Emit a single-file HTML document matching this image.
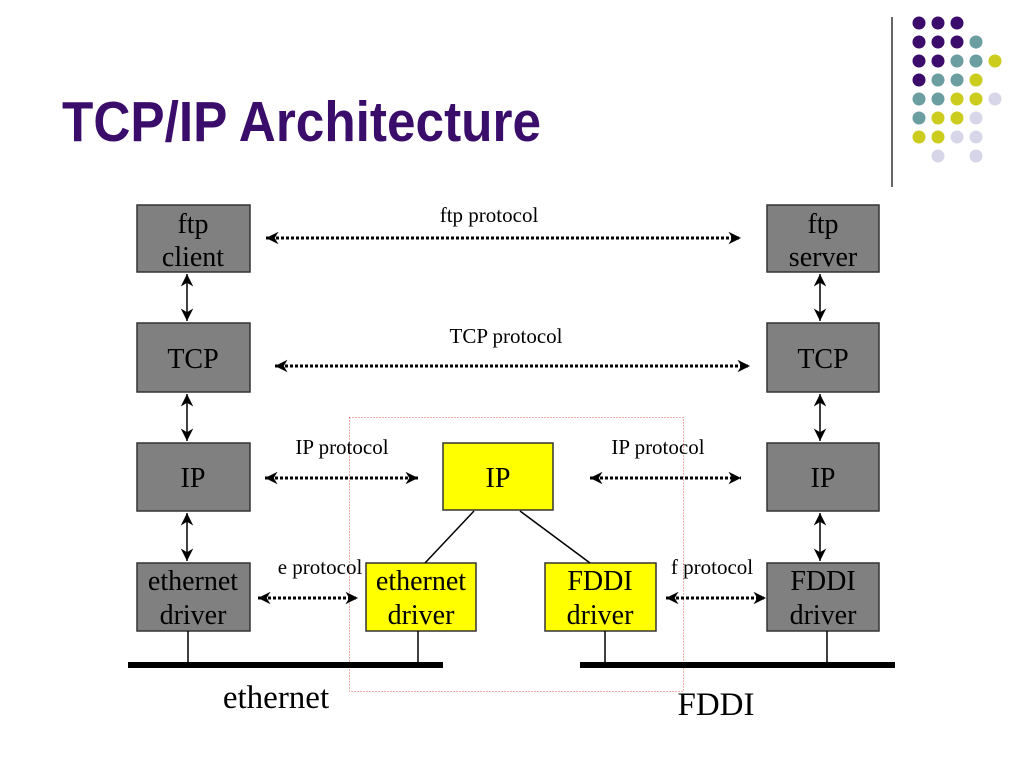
<!DOCTYPE html>
<html><head><meta charset="utf-8"><style>
html,body{margin:0;padding:0;background:#fff;}
svg{display:block;}
</style></head><body>
<svg width="1024" height="768" viewBox="0 0 1024 768" xmlns="http://www.w3.org/2000/svg">
<defs>
<marker id="a" viewBox="0 0 12 12" refX="11" refY="6" markerWidth="15" markerHeight="15" markerUnits="userSpaceOnUse" orient="auto-start-reverse">
<path d="M1,1 L11,6 L1,11 L4,6 Z" fill="#000"/>
</marker>
</defs>
<text x="62" y="141" font-family="Liberation Sans, sans-serif" font-weight="bold" font-size="57" fill="#3a0d6b" textLength="479" lengthAdjust="spacingAndGlyphs">TCP/IP Architecture</text>
<line x1="892" y1="17" x2="892" y2="187" stroke="#333" stroke-width="1.5"/>
<g>
<circle cx="919" cy="23" r="6.5" fill="#3b0c6b"/><circle cx="938" cy="23" r="6.5" fill="#3b0c6b"/><circle cx="957" cy="23" r="6.5" fill="#3b0c6b"/>
<circle cx="919" cy="42" r="6.5" fill="#3b0c6b"/><circle cx="938" cy="42" r="6.5" fill="#3b0c6b"/><circle cx="957" cy="42" r="6.5" fill="#3b0c6b"/><circle cx="976" cy="42" r="6.5" fill="#6b9ea0"/>
<circle cx="919" cy="61" r="6.5" fill="#3b0c6b"/><circle cx="938" cy="61" r="6.5" fill="#3b0c6b"/><circle cx="957" cy="61" r="6.5" fill="#6b9ea0"/><circle cx="976" cy="61" r="6.5" fill="#6b9ea0"/><circle cx="995" cy="61" r="6.5" fill="#cccc1e"/>
<circle cx="919" cy="80" r="6.5" fill="#3b0c6b"/><circle cx="938" cy="80" r="6.5" fill="#6b9ea0"/><circle cx="957" cy="80" r="6.5" fill="#6b9ea0"/><circle cx="976" cy="80" r="6.5" fill="#cccc1e"/>
<circle cx="919" cy="99" r="6.5" fill="#6b9ea0"/><circle cx="938" cy="99" r="6.5" fill="#6b9ea0"/><circle cx="957" cy="99" r="6.5" fill="#cccc1e"/><circle cx="976" cy="99" r="6.5" fill="#cccc1e"/><circle cx="995" cy="99" r="6.5" fill="#d6d6e8"/>
<circle cx="919" cy="118" r="6.5" fill="#6b9ea0"/><circle cx="938" cy="118" r="6.5" fill="#cccc1e"/><circle cx="957" cy="118" r="6.5" fill="#cccc1e"/><circle cx="976" cy="118" r="6.5" fill="#d6d6e8"/>
<circle cx="919" cy="137" r="6.5" fill="#cccc1e"/><circle cx="938" cy="137" r="6.5" fill="#cccc1e"/><circle cx="957" cy="137" r="6.5" fill="#d6d6e8"/><circle cx="976" cy="137" r="6.5" fill="#d6d6e8"/>
<circle cx="938" cy="156" r="6.5" fill="#d6d6e8"/><circle cx="976" cy="156" r="6.5" fill="#d6d6e8"/>
</g>
<rect x="349.5" y="417.5" width="334" height="274" fill="none" stroke="#e0604f" stroke-width="1" stroke-dasharray="1,2"/>
<g stroke="#333" stroke-width="1.5">
<rect x="137" y="205" width="113" height="67" fill="#808080"/>
<rect x="137" y="323" width="113" height="69" fill="#808080"/>
<rect x="137" y="443" width="113" height="68" fill="#808080"/>
<rect x="137" y="563" width="113" height="68" fill="#808080"/>
<rect x="767" y="205" width="112" height="67" fill="#808080"/>
<rect x="767" y="323" width="112" height="69" fill="#808080"/>
<rect x="767" y="443" width="112" height="68" fill="#808080"/>
<rect x="767" y="563" width="112" height="68" fill="#808080"/>
<rect x="443" y="443" width="110" height="67" fill="#ffff00"/>
<rect x="366" y="563" width="110" height="68" fill="#ffff00"/>
<rect x="545" y="563" width="111" height="68" fill="#ffff00"/>
</g>
<g stroke="#000" stroke-width="1.5" fill="none">
<line x1="187" y1="274" x2="187" y2="321" marker-start="url(#a)" marker-end="url(#a)"/>
<line x1="187" y1="394" x2="187" y2="441" marker-start="url(#a)" marker-end="url(#a)"/>
<line x1="187" y1="513" x2="187" y2="561" marker-start="url(#a)" marker-end="url(#a)"/>
<line x1="820" y1="274" x2="820" y2="321" marker-start="url(#a)" marker-end="url(#a)"/>
<line x1="820" y1="394" x2="820" y2="441" marker-start="url(#a)" marker-end="url(#a)"/>
<line x1="820" y1="513" x2="820" y2="561" marker-start="url(#a)" marker-end="url(#a)"/>
<line x1="474" y1="511" x2="425" y2="563"/>
<line x1="520" y1="511" x2="590" y2="563"/>
<line x1="188" y1="631" x2="188" y2="665"/>
<line x1="418" y1="631" x2="418" y2="665"/>
<line x1="605" y1="631" x2="605" y2="665"/>
<line x1="827" y1="631" x2="827" y2="665"/>
</g>
<g stroke="#000" stroke-width="3" stroke-dasharray="3,2" fill="none">
<line x1="266" y1="238" x2="741" y2="238" marker-start="url(#a)" marker-end="url(#a)"/>
<line x1="275" y1="366" x2="750" y2="366" marker-start="url(#a)" marker-end="url(#a)"/>
<line x1="265" y1="478" x2="418" y2="478" marker-start="url(#a)" marker-end="url(#a)"/>
<line x1="590" y1="478" x2="741" y2="478" marker-start="url(#a)" marker-end="url(#a)"/>
<line x1="258" y1="598" x2="358" y2="598" marker-start="url(#a)" marker-end="url(#a)"/>
<line x1="666" y1="598" x2="766" y2="598" marker-start="url(#a)" marker-end="url(#a)"/>
</g>
<rect x="128" y="662" width="315" height="6" fill="#000"/>
<rect x="580" y="662" width="315" height="6" fill="#000"/>
<g font-family="Liberation Serif, serif" font-size="28" fill="#000" text-anchor="middle">
<text x="193" y="233">ftp</text><text x="193" y="266">client</text>
<text x="193" y="368">TCP</text>
<text x="193" y="487">IP</text>
<text x="193" y="590">ethernet</text><text x="193" y="624">driver</text>
<text x="823" y="233">ftp</text><text x="823" y="266">server</text>
<text x="823" y="368">TCP</text>
<text x="823" y="487">IP</text>
<text x="823" y="590">FDDI</text><text x="823" y="624">driver</text>
<text x="498" y="487">IP</text>
<text x="421" y="590">ethernet</text><text x="421" y="624">driver</text>
<text x="600" y="590">FDDI</text><text x="600" y="624">driver</text>
<text x="276" y="708" font-size="33">ethernet</text>
<text x="716" y="715" font-size="33">FDDI</text>
</g>
<g font-family="Liberation Serif, serif" font-size="21" fill="#000" text-anchor="middle">
<text x="489" y="222">ftp protocol</text>
<text x="506" y="343">TCP protocol</text>
<text x="342" y="454">IP protocol</text>
<text x="658" y="454">IP protocol</text>
<text x="320" y="574">e protocol</text>
<text x="712" y="574">f protocol</text>
</g>
</svg>
</body></html>
